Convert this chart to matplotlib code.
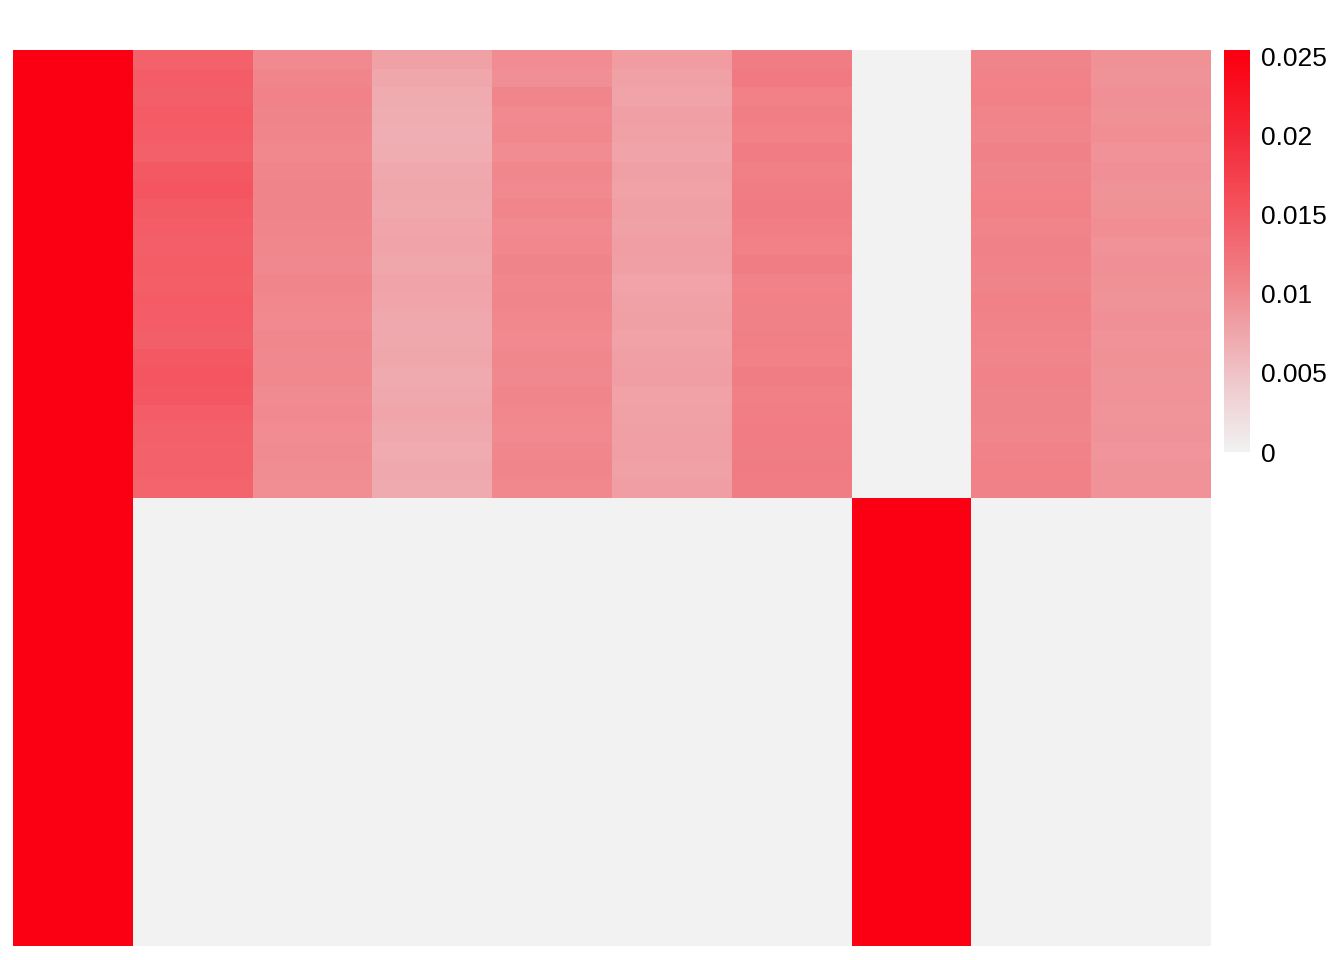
import numpy as np
import matplotlib
matplotlib.use("Agg")
import matplotlib.pyplot as plt
from matplotlib.colors import LinearSegmentedColormap, Normalize

# ---- data (top half: per-column values in bands; bottom half constant) ----
n_bands = 24
col1_top = [0.03] * n_bands
col2_top = [0.0140,0.0145,0.0143,0.0147,0.0145,0.0142,0.0150,0.0153,0.0148,0.0145,0.0143,0.0146,
            0.0144,0.0147,0.0145,0.0143,0.0150,0.0153,0.0151,0.0145,0.0142,0.0141,0.0140,0.0138]
col3_top = [0.0100,0.0105,0.0108,0.0106,0.0104,0.0102,0.0105,0.0107,0.0106,0.0104,0.0103,0.0101,
            0.0104,0.0102,0.0100,0.0103,0.0101,0.0102,0.0099,0.0100,0.0098,0.0099,0.0097,0.0096]
col4_top = [0.0080,0.0075,0.0071,0.0069,0.0068,0.0070,0.0073,0.0075,0.0074,0.0076,0.0077,0.0075,
            0.0078,0.0076,0.0074,0.0073,0.0075,0.0072,0.0074,0.0076,0.0073,0.0071,0.0073,0.0072]
col5_top = [0.0098,0.0095,0.0104,0.0100,0.0102,0.0098,0.0103,0.0100,0.0104,0.0100,0.0102,0.0106,
            0.0103,0.0105,0.0102,0.0100,0.0103,0.0101,0.0105,0.0102,0.0100,0.0103,0.0104,0.0102]
col6_top = [0.0084,0.0080,0.0078,0.0082,0.0080,0.0077,0.0081,0.0079,0.0082,0.0080,0.0083,0.0081,
            0.0078,0.0080,0.0082,0.0079,0.0081,0.0083,0.0079,0.0080,0.0082,0.0081,0.0080,0.0083]
col7_top = [0.0113,0.0117,0.0110,0.0112,0.0110,0.0114,0.0111,0.0113,0.0115,0.0112,0.0110,0.0113,
            0.0108,0.0110,0.0109,0.0111,0.0110,0.0113,0.0111,0.0112,0.0114,0.0113,0.0115,0.0113]
col8_top = [0.0] * n_bands
col9_top = [0.0106,0.0108,0.0110,0.0107,0.0105,0.0109,0.0106,0.0108,0.0110,0.0107,0.0109,0.0108,
            0.0106,0.0110,0.0108,0.0107,0.0105,0.0108,0.0106,0.0107,0.0105,0.0108,0.0110,0.0109]
col10_top = [0.0094,0.0092,0.0095,0.0094,0.0096,0.0093,0.0095,0.0092,0.0094,0.0096,0.0093,0.0095,
             0.0094,0.0092,0.0095,0.0093,0.0094,0.0092,0.0093,0.0091,0.0092,0.0090,0.0092,0.0093]
bottom_values = [0.03, 0, 0, 0, 0, 0, 0, 0.03, 0, 0]

legend_breaks = [0, 0.005, 0.01, 0.015, 0.02, 0.025]
legend_labels = ["0", "0.005", "0.01", "0.015", "0.02", "0.025"]

top = np.array([col1_top, col2_top, col3_top, col4_top, col5_top,
                col6_top, col7_top, col8_top, col9_top, col10_top]).T
bottom = np.tile(np.array(bottom_values), (n_bands, 1))
mat = np.vstack([top, bottom])

cmap = LinearSegmentedColormap.from_list(
    "gr", [(0.0, "#f2f2f2"), (0.2, "#efc2c6"), (0.4, "#f08a90"),
           (0.6, "#f45862"), (0.8, "#f52838"), (1.0, "#fb0012")])
norm = Normalize(vmin=0, vmax=0.025)

plt.rcParams['font.family'] = ['Liberation Sans', 'DejaVu Sans']
W, H = 1344, 960
fig = plt.figure(figsize=(W / 100, H / 100), dpi=100)

ax = fig.add_axes([13 / W, (H - 946) / H, (1211 - 13) / W, (946 - 50) / H])
ax.pcolormesh(np.arange(mat.shape[1] + 1), np.arange(mat.shape[0] + 1), mat,
              cmap=cmap, norm=norm, shading="flat", edgecolors="none", antialiased=False)
ax.set_xlim(0, mat.shape[1])
ax.set_ylim(mat.shape[0], 0)
ax.axis("off")

cax = fig.add_axes([1224 / W, (H - 452) / H, 26 / W, (452 - 50) / H])
grad = np.linspace(0, 0.0254, 256).reshape(-1, 1)
cax.imshow(grad, aspect="auto", cmap=cmap, norm=norm, origin="lower",
           extent=[0, 1, 0, 0.0254])
cax.set_xlim(0, 1)
cax.set_ylim(0, 0.0254)
cax.set_xticks([])
cax.yaxis.tick_right()
cax.set_yticks(legend_breaks)
cax.set_yticklabels(legend_labels, fontsize=19)
cax.tick_params(axis="y", length=0, pad=8)
for s in cax.spines.values():
    s.set_visible(False)

fig.savefig("out.png", dpi=100)
